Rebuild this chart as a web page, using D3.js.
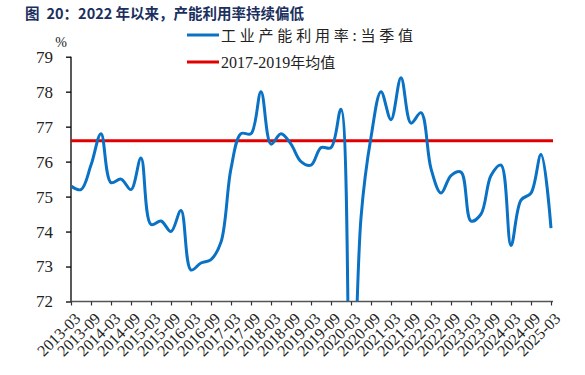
<!DOCTYPE html>
<html><head><meta charset="utf-8">
<script src="https://cdn.jsdelivr.net/npm/d3@7"></script>
<style>
html,body{margin:0;padding:0;background:#fff;}
svg{display:block;}
</style></head>
<body>
<svg id="chart" width="585" height="375"></svg>
<script>
// ---- data ----
const titlePrefix = "图";
const titleText = "20：2022 年以来，产能利用率持续偏低";
const seriesName = "工业产能利用率:当季值";
const refName = "2017-2019年均值";
const quarters = [];
for (let yr = 2013; yr <= 2025; yr++) {
  for (const m of ["03","06","09","12"]) {
    if (yr === 2025 && m !== "03") break;
    quarters.push(yr + "-" + m);
  }
}
const values = [75.3,75.2,75.9,76.8, 75.4,75.5,75.2,76.1, 74.2,74.3,74.0,74.6,
  72.9,73.1,73.2,73.7, 75.8,76.8,76.8,78.0, 76.5,76.8,76.5,76.0,
  75.9,76.4,76.4,77.5, 67.3,74.4,76.7,78.0, 77.2,78.4,77.1,77.4,
  75.8,75.1,75.6,75.7, 74.3,74.5,75.6,75.9, 73.6,74.9,75.1,76.2, 74.1];
const refValue = 76.6;
const yTicks = [72,73,74,75,76,77,78,79];
const xTickLabels = quarters.filter((q,i) => i % 2 === 0);

// ---- layout ----
const svg = d3.select("#chart");
const pL = 71, pR = 551, pT = 56.7, pB = 301.5;
const x = d3.scalePoint().domain(quarters).range([pL, pR]);
const y = d3.scaleLinear().domain([72,79]).range([pB, pT]);
const serif = "'Liberation Serif', 'Times New Roman', serif";
const cjk = "'Noto Sans CJK SC', 'Noto Sans', sans-serif";

// title
const t = svg.append("text").attr("x", 25).attr("y", 19)
  .style("font-family", cjk).attr("font-weight", "bold").attr("font-size", 14.5)
  .attr("fill", "#1B2F5E");
t.append("tspan").text(titlePrefix);
t.append("tspan").attr("dx", 7).text(titleText);

// clip
svg.append("clipPath").attr("id","plot").append("rect")
  .attr("x", pL).attr("y", pT - 10).attr("width", pR - pL + 10).attr("height", pB - pT + 10);

// y axis
const yAxis = svg.append("g").attr("transform", `translate(${pL},0)`)
  .call(d3.axisLeft(y).tickValues(yTicks).tickSize(5).tickFormat(d3.format("d")));
yAxis.attr("font-family", null);
yAxis.select(".domain").attr("stroke", "#000").attr("stroke-width", 1.3)
  .attr("d", `M0,${pT}H0V${pB}`);
yAxis.selectAll(".tick line").attr("stroke", "#000").attr("stroke-width", 1.3);
yAxis.selectAll(".tick text").style("font-family", serif).attr("font-size", 17)
  .attr("fill", "#222").attr("x", -18);

// % label
svg.append("text").attr("x", 61).attr("y", 47).attr("text-anchor", "middle")
  .style("font-family", serif).attr("font-size", 14).attr("fill", "#222").text("%");

// x axis
const xAxis = svg.append("g").attr("transform", `translate(0,${pB})`)
  .call(d3.axisBottom(x).tickValues(xTickLabels).tickSize(4).tickSizeOuter(0));
xAxis.attr("font-family", null);
xAxis.select(".domain").attr("stroke", "#555").attr("stroke-width", 1.5)
  .attr("d", `M${pL},0H${pR + 2}`);
xAxis.selectAll(".tick line").attr("stroke", "#333").attr("stroke-width", 1.2);
xAxis.selectAll(".tick text")
  .style("font-family", serif).attr("font-size", 16).attr("fill", "#222")
  .attr("text-anchor", "end").attr("dy", 0)
  .attr("transform", "translate(10,18) rotate(-45)")
  .attr("x", 0).attr("y", 0);

// reference line
svg.append("line").attr("x1", pL).attr("x2", pR + 2)
  .attr("y1", y(refValue)).attr("y2", y(refValue))
  .attr("stroke", "#E00000").attr("stroke-width", 3);

// series line
const line = d3.line().x((d,i) => x(quarters[i])).y(d => y(d))
  .curve(d3.curveCatmullRom.alpha(0.5));
svg.append("path").datum(values).attr("clip-path", "url(#plot)")
  .attr("d", line).attr("fill", "none")
  .attr("stroke", "#0A72C4").attr("stroke-width", 3).attr("stroke-linejoin", "round");

// legend
const lg = svg.append("g");
lg.append("line").attr("x1", 187).attr("x2", 219).attr("y1", 35).attr("y2", 35)
  .attr("stroke", "#0A72C4").attr("stroke-width", 3);
lg.append("text").attr("x", 221).attr("y", 40.5)
  .style("font-family", cjk).attr("font-size", 15).attr("fill", "#222")
  .attr("textLength", 192).attr("lengthAdjust", "spacing").text(seriesName);
lg.append("line").attr("x1", 187).attr("x2", 219).attr("y1", 62).attr("y2", 62)
  .attr("stroke", "#E00000").attr("stroke-width", 3);
const l2 = lg.append("text").attr("x", 221).attr("y", 67.5)
  .attr("font-size", 16).attr("fill", "#222");
l2.append("tspan").style("font-family", serif).text("2017-2019");
l2.append("tspan").style("font-family", cjk).attr("font-size", 15).text("年均值");
</script>
</body></html>
